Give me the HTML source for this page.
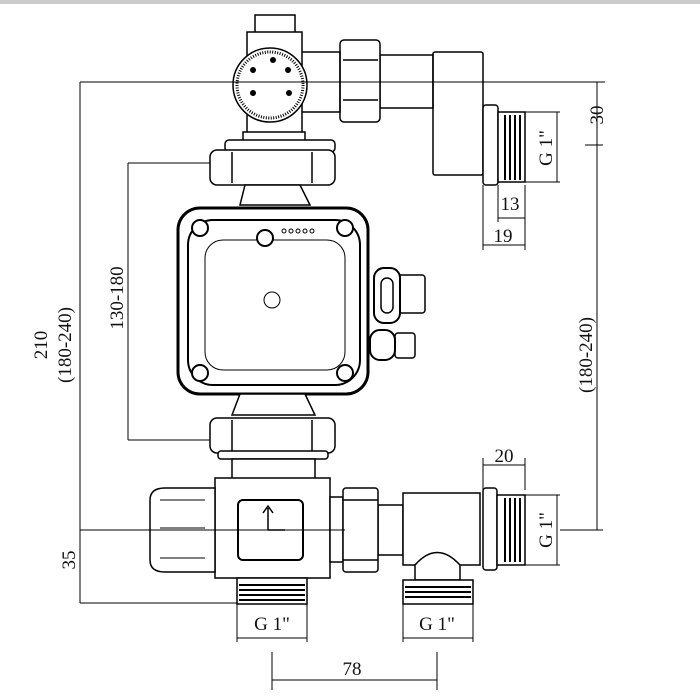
<!DOCTYPE html>
<html><head><meta charset="utf-8"><style>
html,body{margin:0;padding:0;background:#fff;}
svg{display:block}
text{font-family:"Liberation Serif",serif;fill:#111;}
</style></head><body>
<svg width="700" height="700" viewBox="0 0 700 700" xmlns="http://www.w3.org/2000/svg">
<rect x="0" y="0" width="700" height="4" fill="#ccc"/>
<g stroke="#000" fill="none" stroke-width="1">
<line x1="80" y1="82" x2="80" y2="603"/>
<line x1="80" y1="530" x2="345" y2="530"/>
<line x1="80" y1="603" x2="240" y2="603"/>
<line x1="597" y1="82" x2="597" y2="530"/>
<line x1="560" y1="530" x2="603" y2="530"/>
<line x1="585" y1="145" x2="603" y2="145"/>
<line x1="128" y1="163" x2="128" y2="440"/>
<line x1="128" y1="163" x2="235" y2="163"/>
<line x1="128" y1="440" x2="235" y2="440"/>
<line x1="237" y1="580" x2="237" y2="642"/><line x1="307" y1="580" x2="307" y2="642"/>
<line x1="237" y1="638" x2="307" y2="638"/>
<line x1="403" y1="580" x2="403" y2="642"/><line x1="473" y1="580" x2="473" y2="642"/>
<line x1="403" y1="638" x2="473" y2="638"/>
<line x1="272" y1="652" x2="272" y2="690"/><line x1="437" y1="652" x2="437" y2="690"/>
<line x1="272" y1="680" x2="437" y2="680"/>
<line x1="483" y1="185" x2="483" y2="250"/><line x1="498" y1="185" x2="498" y2="222"/><line x1="525" y1="185" x2="525" y2="250"/>
<line x1="498" y1="218" x2="525" y2="218"/><line x1="483" y1="245" x2="525" y2="245"/>
<line x1="525" y1="112" x2="560" y2="112"/><line x1="525" y1="182" x2="560" y2="182"/><line x1="557" y1="112" x2="557" y2="182"/>
<line x1="483" y1="458" x2="483" y2="490"/><line x1="525" y1="458" x2="525" y2="490"/><line x1="483" y1="465" x2="525" y2="465"/>
<line x1="525" y1="495" x2="560" y2="495"/><line x1="525" y1="565" x2="560" y2="565"/><line x1="557" y1="495" x2="557" y2="565"/>
</g>
<g font-size="19">
<text x="0" y="0" transform="translate(47,345) rotate(-90)" text-anchor="middle">210</text>
<text x="0" y="0" transform="translate(71,345) rotate(-90)" text-anchor="middle">(180-240)</text>
<text x="0" y="0" transform="translate(123,298) rotate(-90)" text-anchor="middle">130-180</text>
<text x="0" y="0" transform="translate(592,355) rotate(-90)" text-anchor="middle">(180-240)</text>
<text x="0" y="0" transform="translate(603,115) rotate(-90)" text-anchor="middle">30</text>
<text x="0" y="0" transform="translate(75,560) rotate(-90)" text-anchor="middle">35</text>
<text x="0" y="0" transform="translate(552,148) rotate(-90)" text-anchor="middle">G 1"</text>
<text x="0" y="0" transform="translate(552,530) rotate(-90)" text-anchor="middle">G 1"</text>
<text x="272" y="630" text-anchor="middle">G 1"</text>
<text x="437" y="630" text-anchor="middle">G 1"</text>
<text x="352" y="675" text-anchor="middle">78</text>
<text x="510" y="210" text-anchor="middle">13</text>
<text x="503" y="242" text-anchor="middle">19</text>
<text x="504" y="462" text-anchor="middle">20</text>
</g>
<g stroke="#000" fill="#fff" stroke-width="1.5">
<rect x="433" y="52" width="50" height="123" rx="2"/>
<rect x="380" y="55" width="53" height="53" fill="none"/>
<rect x="483" y="105" width="15" height="80" rx="3"/>
<rect x="498" y="112" width="27" height="70"/>
<g stroke-width="2"><line x1="505" y1="115" x2="505" y2="180"/><line x1="510" y1="115" x2="510" y2="180"/><line x1="515" y1="115" x2="515" y2="180"/><line x1="520" y1="115" x2="520" y2="180"/></g>
<rect x="340" y="40" width="40" height="82" rx="4"/>
<line x1="343" y1="60" x2="378" y2="60"/><line x1="343" y1="100" x2="378" y2="100"/>
<rect x="300" y="52" width="40" height="60" fill="none"/>
<rect x="255" y="15" width="40" height="30"/>
<rect x="247" y="32" width="55" height="103"/>
<rect x="243" y="132" width="62" height="15"/>
<circle cx="270" cy="85" r="37"/>
<circle cx="270" cy="85" r="33" stroke-width="3" stroke-dasharray="1 1.5"/>
<circle cx="270" cy="85" r="26" fill="#fff" stroke="none"/>
<g fill="#000" stroke="none"><circle cx="273" cy="60" r="3"/><circle cx="253" cy="70" r="3"/><circle cx="288" cy="70" r="3"/><circle cx="253" cy="93" r="3"/><circle cx="289" cy="93" r="3"/></g>
<rect x="225" y="140" width="110" height="12" rx="4"/>
<rect x="210" y="150" width="125" height="35" rx="7"/>
<line x1="232" y1="152" x2="232" y2="183"/><line x1="312" y1="152" x2="312" y2="183"/>
<path d="M245 185 L300 185 L310 205 L240 205 Z"/>
<rect x="178" y="208" width="190" height="186" rx="22" stroke-width="3"/>
<rect x="188" y="220" width="172" height="165" rx="25" stroke-width="2"/>
<rect x="205" y="240" width="140" height="130" rx="18" stroke-width="1"/>
<circle cx="200" cy="228" r="8" stroke-width="2"/><circle cx="345" cy="228" r="8" stroke-width="2"/>
<circle cx="200" cy="373" r="8" stroke-width="2"/><circle cx="345" cy="373" r="8" stroke-width="2"/>
<circle cx="265" cy="238" r="8" stroke-width="2"/>
<circle cx="272" cy="300" r="8" stroke-width="1"/>
<g stroke-width="1"><circle cx="284" cy="231" r="2"/><circle cx="291" cy="231" r="2"/><circle cx="298" cy="231" r="2"/><circle cx="305" cy="231" r="2"/><circle cx="312" cy="231" r="2"/></g>
<rect x="392" y="275" width="33" height="38" rx="3"/>
<rect x="374" y="268" width="26" height="55" rx="10" stroke-width="2"/>
<rect x="381" y="278" width="12" height="35" rx="6"/>
<rect x="395" y="333" width="20" height="25" rx="3"/>
<rect x="370" y="330" width="25" height="30" rx="10" stroke-width="2"/>
<path d="M240 394 L305 394 L315 415 L232 415 Z"/>
<rect x="210" y="418" width="125" height="35" rx="7"/>
<line x1="232" y1="420" x2="232" y2="451"/><line x1="312" y1="420" x2="312" y2="451"/>
<rect x="218" y="451" width="110" height="8" rx="3"/>
<rect x="232" y="459" width="83" height="20"/>
<rect x="378" y="505" width="25" height="50"/>
<path d="M215 478 H330 V578 H215 Z"/>
<path d="M150 500 Q150 488 165 488 H215 V572 H165 Q150 572 150 560 Z"/>
<path d="M160 500 H205 M160 528 H205 M160 558 H205" fill="none" stroke-width="1"/>
<rect x="238" y="500" width="65" height="60" rx="5" stroke-width="2"/>
<path d="M268 530 V508 M263 513 L268 506 L273 513 M268 530 H285" fill="none"/>
<rect x="330" y="497" width="13" height="65"/>
<rect x="343" y="488" width="35" height="84" rx="3"/>
<line x1="343" y1="500" x2="378" y2="500"/><line x1="343" y1="560" x2="378" y2="560"/>
<rect x="403" y="493" width="77" height="72"/>
<rect x="483" y="488" width="14" height="82" rx="3"/>
<rect x="497" y="495" width="28" height="70"/>
<g stroke-width="2"><line x1="505" y1="498" x2="505" y2="562"/><line x1="510" y1="498" x2="510" y2="562"/><line x1="515" y1="498" x2="515" y2="562"/><line x1="520" y1="498" x2="520" y2="562"/></g>
<path d="M415 565 Q437 540 460 565 V580 H415 Z"/>
<rect x="237" y="578" width="70" height="26"/>
<rect x="403" y="580" width="70" height="24"/>
<g stroke-width="2"><path d="M239 585H305M239 590H305M239 595H305M239 600H305"/><path d="M405 587H471M405 592H471M405 597H471"/></g>
</g>
<line x1="80" y1="530" x2="345" y2="530" stroke="#000"/>
<line x1="80" y1="82" x2="605" y2="82" stroke="#000"/>
</svg>
</body></html>
